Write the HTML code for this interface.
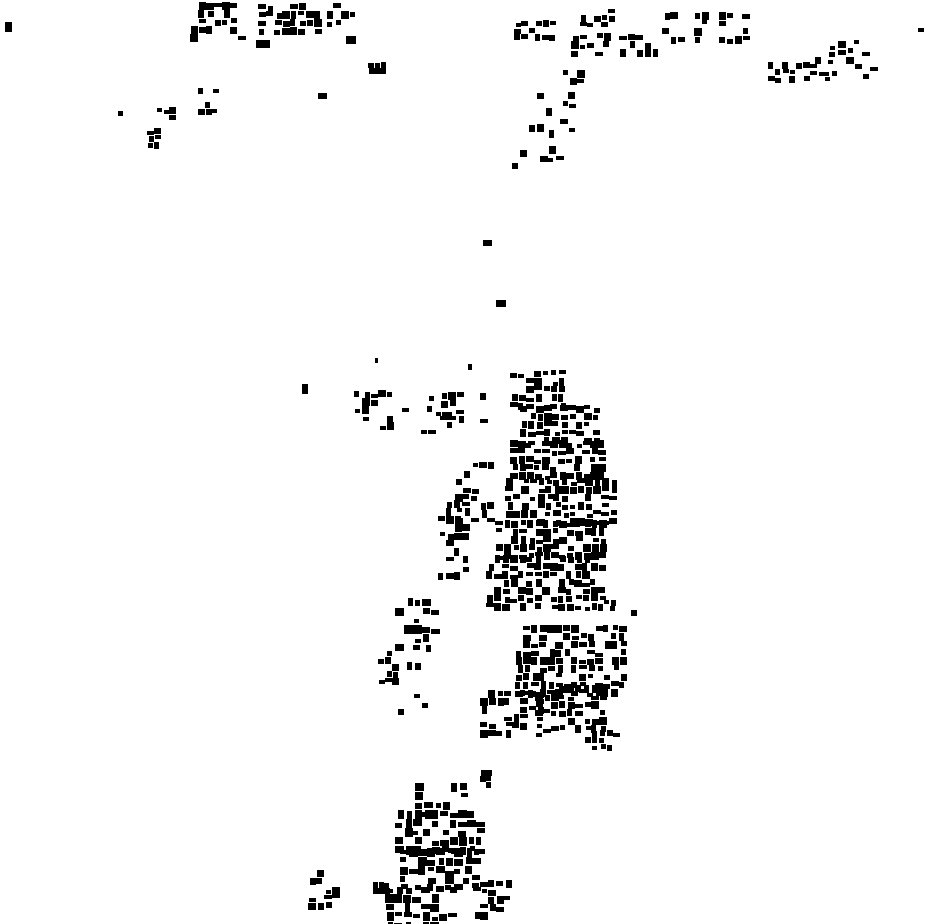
<!DOCTYPE html>
<html><head><meta charset="utf-8"><style>
html,body{margin:0;padding:0;background:#fff;width:930px;height:924px;overflow:hidden}
svg{display:block}
</style></head><body>
<svg id="s" width="930" height="924" viewBox="0 0 930 924" xmlns="http://www.w3.org/2000/svg">
<rect width="930" height="924" fill="#fff"/>
<g id="g" fill="#000"></g>
</svg>
<script>
var seed=12345;function r(){seed=(seed*1103515245+12345)%2147483648;return seed/2147483648;}
var g=document.getElementById('g'),ns='http://www.w3.org/2000/svg';
function R(x,y,w,h){var e=document.createElementNS(ns,'rect');e.setAttribute('x',x);e.setAttribute('y',y);e.setAttribute('width',w);e.setAttribute('height',h);g.appendChild(e);}
function C(x,y,w,h,d,c){c=c||9;for(var yy=y;yy<y+h;yy+=c){for(var xx=x;xx<x+w;xx+=c){if(r()<d){var bw=5+Math.floor(r()*(c-4)),bh=4+Math.floor(r()*(c-3));if(bw>c)bw=c;if(bh>c)bh=c;R(xx+Math.floor(r()*(c-bw+1)),yy+Math.floor(r()*(c-bh+1)),bw,bh);}}}}
R(5,22,7,10);R(918,28,6,4);R(318,93,9,6);R(118,111,5,5);R(375,358,3,5);R(468,364,4,6);R(483,240,9,6);R(496,300,10,7);R(631,610,6,6);R(302,384,6,10);R(346,36,10,8);R(256,40,14,8);R(512,163,6,6);R(520,150,7,7);
C(190,2,50,35,0.5,8);C(250,3,68,28,0.65,8);C(325,3,25,20,0.55,8);C(368,62,18,12,0.6,6);C(155,107,22,12,0.6,7);C(198,88,18,28,0.6,7);C(147,128,12,22,0.5,7);
C(514,20,40,16,0.6,7);C(580,8,34,20,0.65,7);C(571,33,86,22,0.55,8);C(662,12,88,32,0.5,8);C(768,62,64,16,0.6,7);C(814,43,18,16,0.5,7);C(838,40,36,38,0.35,8);
C(553,70,26,16,0.5,8);C(528,92,42,40,0.35,8);C(540,130,20,28,0.4,8);
C(354,390,34,36,0.4,8);C(402,396,30,16,0.5,8);C(412,412,40,18,0.45,8);C(440,392,46,30,0.4,8);
C(510,370,50,40,0.8,8);C(520,405,80,40,0.8,8);C(510,440,90,40,0.85,8);C(505,478,112,45,0.82,8);C(495,520,110,40,0.85,8);C(486,555,115,55,0.82,8);
C(455,462,40,62,0.45,8);C(438,500,30,80,0.5,8);C(598,600,16,12,0.5,6);
C(395,598,40,70,0.45,9);C(378,650,20,30,0.5,7);C(398,692,32,30,0.45,8);
C(515,625,105,65,0.8,8);C(535,685,70,45,0.8,8);C(480,690,60,45,0.7,8);C(585,730,30,20,0.55,7);C(480,770,10,18,0.5,6);
C(415,783,50,32,0.55,9);C(395,810,90,40,0.7,9);C(400,848,80,45,0.8,9);C(385,885,70,38,0.7,9);C(372,882,16,12,0.7,6);C(308,870,32,40,0.5,8);C(472,880,40,40,0.55,8);
</script>
</body></html>
